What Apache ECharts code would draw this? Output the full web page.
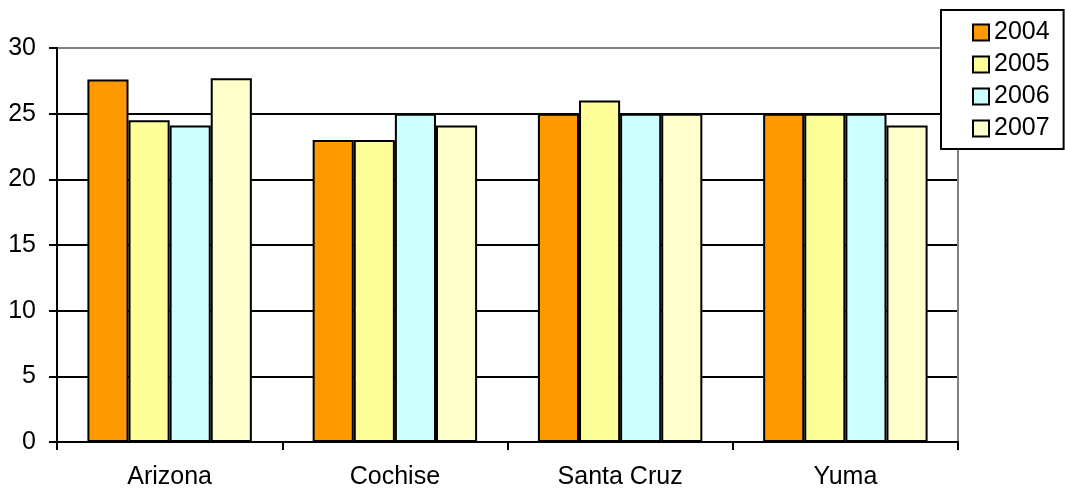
<!DOCTYPE html>
<html>
<head>
<meta charset="utf-8">
<script src="https://cdn.jsdelivr.net/npm/echarts@6/dist/echarts.min.js"></script>
<style>
html,body{margin:0;padding:0;background:#fff;}
#chart{width:1065px;height:494px;}
</style>
</head>
<body>
<div id="chart"></div>
<script>
const categories = ['Arizona', 'Cochise', 'Santa Cruz', 'Yuma'];
const seriesNames = ['2004', '2005', '2006', '2007'];
const values2004 = [27.6, 23, 25, 25];
const values2005 = [24.5, 23, 26, 25];
const values2006 = [24.1, 25, 25, 25];
const values2007 = [27.7, 24.1, 25, 24.1];
const colors = ['#FF9900', '#FFFF99', '#CCFFFF', '#FFFFCC'];
const allValues = [values2004, values2005, values2006, values2007];

const FONT = "'Liberation Sans', Arial, sans-serif";
const FS = 25;

const chart = echarts.init(document.getElementById('chart'), null, {renderer: 'canvas'});
chart.setOption({
  animation: false,
  backgroundColor: '#fff',
  textStyle: {fontFamily: FONT},
  grid: {left: 57, right: 107, top: 48, bottom: 52, containLabel: false},
  legend: {
    orient: 'vertical',
    left: 941, top: 10,
    data: seriesNames,
    itemWidth: 16, itemHeight: 16,
    itemGap: 7,
    itemTextGap: 7,
    padding: [10, 14, 8, 31],
    borderColor: '#000', borderWidth: 2,
    backgroundColor: '#fff',
    icon: 'rect',
    itemStyle: {borderColor: '#000', borderWidth: 2},
    textStyle: {fontFamily: FONT, fontSize: FS, color: '#000'}
  },
  xAxis: {
    type: 'category',
    data: categories,
    axisLine: {lineStyle: {color: '#000', width: 2}},
    axisTick: {show: true, length: 8, lineStyle: {color: '#000', width: 2}},
    axisLabel: {fontFamily: FONT, fontSize: FS, color: '#000', margin: 23},
    splitLine: {show: false}
  },
  yAxis: [{
    type: 'value',
    min: 0, max: 30, interval: 5,
    axisLine: {show: true, lineStyle: {color: '#000', width: 2}},
    axisTick: {show: true, length: 8, lineStyle: {color: '#000', width: 2}},
    axisLabel: {fontFamily: FONT, fontSize: FS, color: '#000', margin: 21},
    splitLine: {show: true, lineStyle: {color: ['#000','#000','#000','#000','#000','#000','#808080'], width: 2}}
  }, {
    type: 'value',
    position: 'right',
    min: 0, max: 30, interval: 5,
    axisLine: {show: true, lineStyle: {color: '#808080', width: 2}},
    axisTick: {show: false},
    axisLabel: {show: false},
    splitLine: {show: false}
  }],
  series: seriesNames.map((name, i) => ({
    name: name,
    type: 'bar',
    data: allValues[i],
    barGap: '0%',
    barCategoryGap: '27%',
    itemStyle: {color: colors[i], borderColor: '#000', borderWidth: 2}
  }))
});
</script>
</body>
</html>
